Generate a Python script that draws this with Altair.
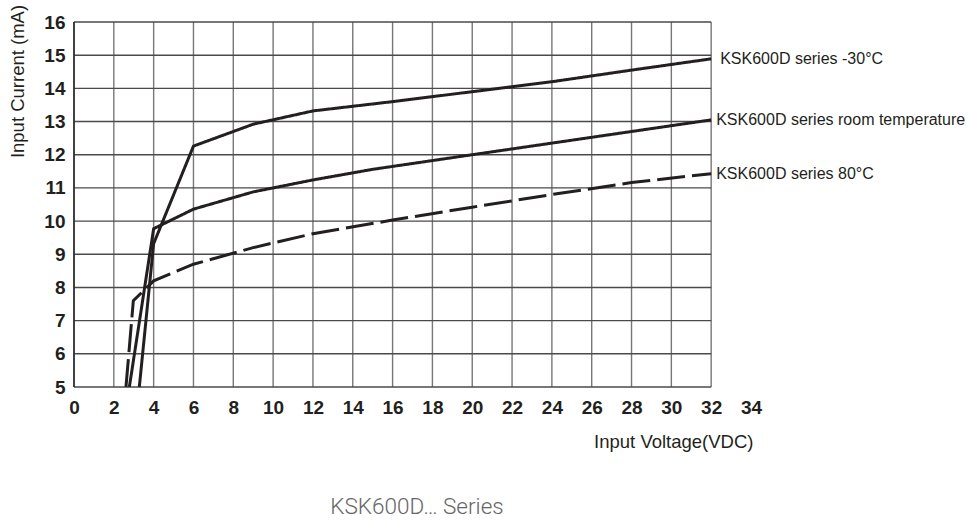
import altair as alt
import pandas as pd

# Input current vs. input voltage for three ambient temperatures
v_cold = [3.28, 4.0, 6.0, 9.0, 12.0, 16.0, 20.0, 24.0, 28.0, 32.0]
i_cold = [5.0, 9.32, 12.26, 12.92, 13.32, 13.6, 13.9, 14.2, 14.55, 14.89]

v_room = [2.78, 4.0, 6.0, 9.0, 12.0, 15.0, 20.0, 24.0, 28.0, 32.0]
i_room = [5.0, 9.77, 10.36, 10.88, 11.24, 11.56, 12.0, 12.35, 12.7, 13.05]

v_hot = [2.61, 2.98, 4.0, 6.0, 9.0, 12.0, 16.0, 20.0, 24.0, 28.0, 32.0]
i_hot = [5.0, 7.6, 8.2, 8.7, 9.2, 9.62, 10.03, 10.42, 10.8, 11.16, 11.43]

series_names = ["KSK600D series -30°C",
                "KSK600D series room temperature",
                "KSK600D series 80°C"]
label_dx = [9, 5, 5]

x_ticks = list(range(0, 35, 2))
y_ticks = list(range(5, 17))
grid_x = list(range(0, 33, 2))
grid_y = list(range(5, 17))

INK = "#231f20"
SANS = "Liberation Sans, Arial, sans-serif"

rows = []
for name, vs, cs in zip(series_names, [v_cold, v_room, v_hot], [i_cold, i_room, i_hot]):
    for k, (v, c) in enumerate(zip(vs, cs)):
        rows.append({"series": name, "v": v, "i": c, "k": k})
curves = pd.DataFrame(rows)

x_scale = alt.Scale(domain=[0, 34], nice=False, zero=False)
y_scale = alt.Scale(domain=[5, 16], nice=False, zero=False)

x_axis = alt.Axis(values=x_ticks, grid=False, domain=False, ticks=False,
                  labelFont=SANS, labelFontWeight="bold", labelFontSize=19,
                  labelColor=INK, labelPadding=20, labelBaseline="middle",
                  labelFlush=False, labelOverlap=False,
                  title="Input Voltage(VDC)", titleFont=SANS, titleFontSize=18.5,
                  titleFontWeight="normal", titleColor=INK,
                  titleX=679, titleY=54, titleAlign="right", titleBaseline="middle")
y_axis = alt.Axis(values=y_ticks, grid=False, domain=False, ticks=False,
                  labelFont=SANS, labelFontWeight="bold", labelFontSize=19,
                  labelColor=INK, labelPadding=9, labelFlush=False, labelOverlap=False,
                  title="Input Current (mA)", titleFont=SANS, titleFontSize=18.5,
                  titleFontWeight="normal", titleColor=INK, titleAngle=270,
                  titleX=-57, titleY=59, titleAlign="center", titleBaseline="middle")

# grid lines, limited to the 0-32 V span
vgrid = pd.DataFrame({"x": grid_x, "y0": 5, "y1": 16})
hgrid = pd.DataFrame({"y": grid_y, "x0": 0, "x1": 32})

vlines = alt.Chart(vgrid).mark_rule(color="#777777", strokeWidth=1.4).encode(
    x=alt.X("x:Q", scale=x_scale, axis=x_axis),
    y=alt.Y("y0:Q", scale=y_scale, axis=y_axis),
    y2="y1:Q",
)
hlines = alt.Chart(hgrid).mark_rule(color="#4a4a4a", strokeWidth=1.4).encode(
    y=alt.Y("y:Q", scale=y_scale, axis=y_axis),
    x=alt.X("x0:Q", scale=x_scale, axis=x_axis),
    x2="x1:Q",
)
left_edge = alt.Chart(vgrid[vgrid.x == 0]).mark_rule(color="#2a2a2a", strokeWidth=1.6).encode(
    x=alt.X("x:Q", scale=x_scale, axis=x_axis),
    y=alt.Y("y0:Q", scale=y_scale, axis=y_axis),
    y2="y1:Q",
)

lines = alt.Chart(curves).mark_line(color=INK, strokeWidth=3, strokeJoin="miter").encode(
    x=alt.X("v:Q", scale=x_scale, axis=x_axis),
    y=alt.Y("i:Q", scale=y_scale, axis=y_axis),
    detail="series:N",
    order="k:Q",
    strokeDash=alt.StrokeDash("series:N",
                              scale=alt.Scale(domain=series_names,
                                              range=[[1, 0], [1, 0], [28, 7]]),
                              legend=None),
)

ends = curves.loc[curves.groupby("series")["k"].idxmax()]
label_layers = []
for name, dx in zip(series_names, label_dx):
    label_layers.append(
        alt.Chart(ends[ends.series == name]).mark_text(
            align="left", baseline="middle", dx=dx, font=SANS, fontSize=16, color=INK
        ).encode(
            x=alt.X("v:Q", scale=x_scale, axis=x_axis),
            y=alt.Y("i:Q", scale=y_scale, axis=y_axis),
            text="series:N",
        )
    )

caption = alt.Chart(pd.DataFrame({"t": ["KSK600D… Series"]})).mark_text(
    align="center", baseline="middle", font="Roboto", fontWeight=300,
    fontSize=22.5, color="#666666"
).encode(x=alt.value(343), y=alt.value(485), text="t:N")

chart = alt.layer(vlines, hlines, left_edge, lines, *label_layers, caption).properties(
    width=677, height=365,
    autosize=alt.AutoSizeParams(type="none"),
    padding={"left": 74, "top": 22, "right": 220, "bottom": 134},
).configure(background="white").configure_view(
    strokeWidth=0, stroke="transparent"
).configure_axis(labelOverlap=False)

chart.save("out.html", embed_options={"renderer": "svg", "actions": False})
